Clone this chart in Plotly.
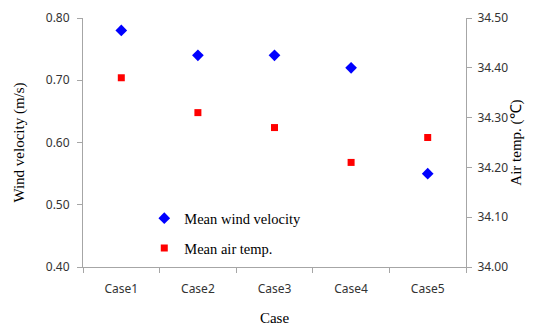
import plotly.graph_objects as go

cases = ["Case1", "Case2", "Case3", "Case4", "Case5"]
wind_velocity = [0.78, 0.74, 0.74, 0.72, 0.55]
air_temp = [34.38, 34.31, 34.28, 34.21, 34.26]
left_ticks = [0.40, 0.50, 0.60, 0.70, 0.80]
right_ticks = [34.00, 34.10, 34.20, 34.30, 34.40, 34.50]

fig = go.Figure()
fig.add_trace(go.Scatter(x=cases, y=wind_velocity, mode="markers", name="Mean wind velocity",
                         legendgroup="a",
                         marker=dict(symbol="diamond", color="#0000ff", size=9)))
fig.add_trace(go.Scatter(x=cases, y=air_temp, mode="markers", name="Mean air temp.", yaxis="y2",
                         legendgroup="b",
                         marker=dict(symbol="square", color="#ff0000", size=7)))

axis_col = "#a6a6a6"
tick_font = dict(family="Noto Sans, DejaVu Sans, sans-serif", size=12, color="#333333")
title_font = dict(family="Liberation Serif, Times New Roman, serif", size=15, color="#000000")

fig.update_layout(
    width=541, height=326,
    margin=dict(l=83, r=75, t=18, b=59, autoexpand=False),
    paper_bgcolor="white", plot_bgcolor="white",
    showlegend=True,
    legend=dict(x=0.16, y=0.26, xanchor="left", yanchor="top", traceorder="grouped",
                font=dict(family="Liberation Serif, Times New Roman, serif", size=14.5, color="#000"),
                bgcolor="rgba(0,0,0,0)", itemsizing="trace", tracegroupgap=8),
    xaxis=dict(type="category", range=[-0.5, 4.5], showline=True, linecolor=axis_col, linewidth=1,
               ticks="outside", tickson="boundaries", ticklen=5, tickcolor=axis_col,
               showgrid=False, tickfont=tick_font, automargin=False, ticklabelstandoff=11,
               title=dict(text="Case", font=title_font, standoff=18)),
    yaxis=dict(range=[0.40, 0.80], tickvals=left_ticks, tickformat=".2f", showline=True,
               linecolor=axis_col, linewidth=1, ticks="outside", ticklen=5, tickcolor=axis_col,
               showgrid=False, zeroline=False, tickfont=tick_font, automargin=False,
               ticklabelstandoff=5,
               title=dict(text="Wind velocity (m/s)", font=title_font, standoff=17)),
    yaxis2=dict(range=[34.00, 34.50], tickvals=right_ticks, tickformat=".2f", overlaying="y",
                side="right", showline=True, linecolor=axis_col, linewidth=1, ticks="outside",
                ticklen=5, tickcolor=axis_col, showgrid=False, zeroline=False, tickfont=tick_font,
                automargin=False, ticklabelstandoff=3,
                title=dict(text="Air temp. (℃)", font=title_font, standoff=0)),
)

fig.write_html("out.html", config={"displayModeBar": False},
               post_script="document.body.style.margin='0';")
